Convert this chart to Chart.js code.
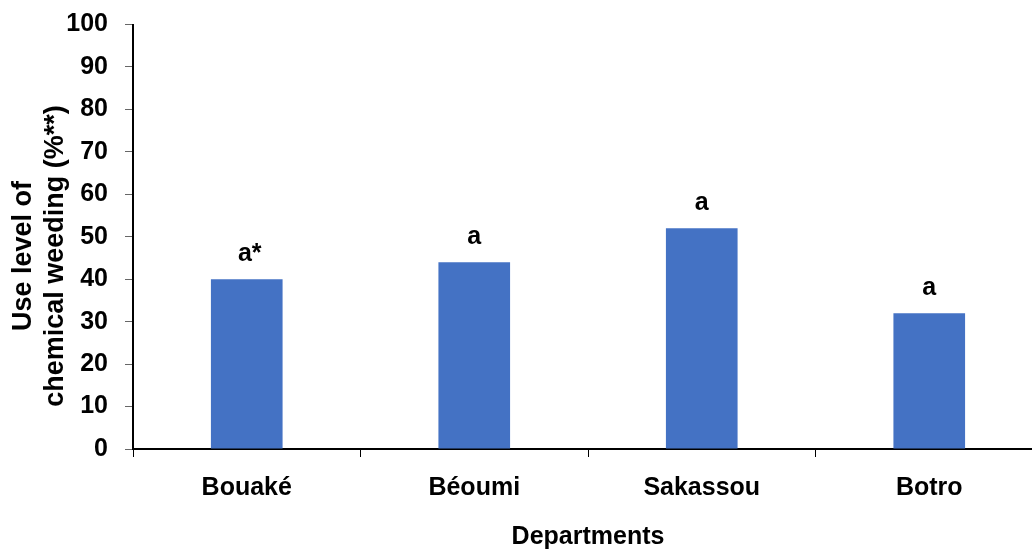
<!DOCTYPE html>
<html>
<head>
<meta charset="utf-8">
<script src="https://cdn.jsdelivr.net/npm/chart.js@4"></script>
<style>
  html, body { margin: 0; padding: 0; background: #fff; overflow: hidden; }
  #wrap { width: 1032px; height: 550px; overflow: hidden; }
</style>
</head>
<body>
<div id="wrap"><canvas id="barChart" width="1045" height="550"></canvas></div>
<script>
// data
const departments = ['Bouaké', 'Béoumi', 'Sakassou', 'Botro'];
const useLevels = [40, 44, 52, 32];
const letters = ['a*', 'a', 'a', 'a'];
const yTicks = [0, 10, 20, 30, 40, 50, 60, 70, 80, 90, 100];
const yTitle = ['Use level of', 'chemical weeding (%**)'];

const FONT = '"Liberation Sans", Arial, sans-serif';
Chart.defaults.font.family = FONT;
Chart.defaults.font.weight = 'bold';
Chart.defaults.font.size = 25;
Chart.defaults.color = '#000';

// letters above each bar
const letterPlugin = {
    id: 'letters',
    afterDatasetsDraw(chart) {
        const ctx = chart.ctx;
        const bars = chart.getDatasetMeta(0).data;
        ctx.save();
        ctx.font = 'bold 25px ' + FONT;
        ctx.fillStyle = '#000';
        ctx.textAlign = 'center';
        ctx.textBaseline = 'alphabetic';
        bars.forEach(function(bar, i) {
            ctx.fillText(letters[i], bar.x + (letters[i].length > 1 ? 3 : 0), bar.y - 18);
        });
        ctx.restore();
    }
};

// y axis title, two lines, sits a bit lower than the plot centre like the original
const yTitlePlugin = {
    id: 'yTitle',
    afterDraw(chart) {
        const ctx = chart.ctx;
        ctx.save();
        ctx.font = 'bold 27px ' + FONT;
        ctx.fillStyle = '#000';
        ctx.textAlign = 'center';
        ctx.textBaseline = 'middle';
        ctx.translate(23.5, 256);
        ctx.rotate(-Math.PI / 2);
        yTitle.forEach(function(line, i) {
            ctx.fillText(line, 0, i * 32.5);
        });
        ctx.restore();
    }
};

const ctx = document.getElementById('barChart').getContext('2d');
new Chart(ctx, {
    type: 'bar',
    data: {
        labels: departments,
        datasets: [{
            data: useLevels,
            backgroundColor: '#4472C4',
            barPercentage: 0.315,
            categoryPercentage: 1.0
        }]
    },
    options: {
        responsive: false,
        animation: false,
        layout: { padding: { left: 0, right: 2, top: 24.5, bottom: 0 } },
        plugins: {
            legend: { display: false },
            tooltip: { enabled: false }
        },
        scales: {
            x: {
                grid: {
                    offset: true,
                    drawOnChartArea: false,
                    drawTicks: true,
                    tickLength: 8,
                    color: '#000',
                    lineWidth: 1
                },
                border: { color: '#000', width: 2 },
                ticks: { padding: 16 },
                title: {
                    display: true,
                    text: 'Departments',
                    padding: { top: 0, bottom: -2 }
                },
                afterFit(scale) { scale.height = 101; }
            },
            y: {
                min: 0,
                max: 100,
                afterBuildTicks(scale) {
                    scale.ticks = yTicks.map(v => ({ value: v }));
                },
                grid: {
                    drawOnChartArea: false,
                    drawTicks: true,
                    tickLength: 8,
                    color: '#666',
                    lineWidth: 1
                },
                border: { color: '#000', width: 2 },
                ticks: { padding: 17 },
                afterFit(scale) {
                    scale.width = 133;
                    scale.paddingTop = 0;
                    scale.paddingBottom = 0;
                }
            }
        }
    },
    plugins: [letterPlugin, yTitlePlugin]
});
</script>
</body>
</html>
